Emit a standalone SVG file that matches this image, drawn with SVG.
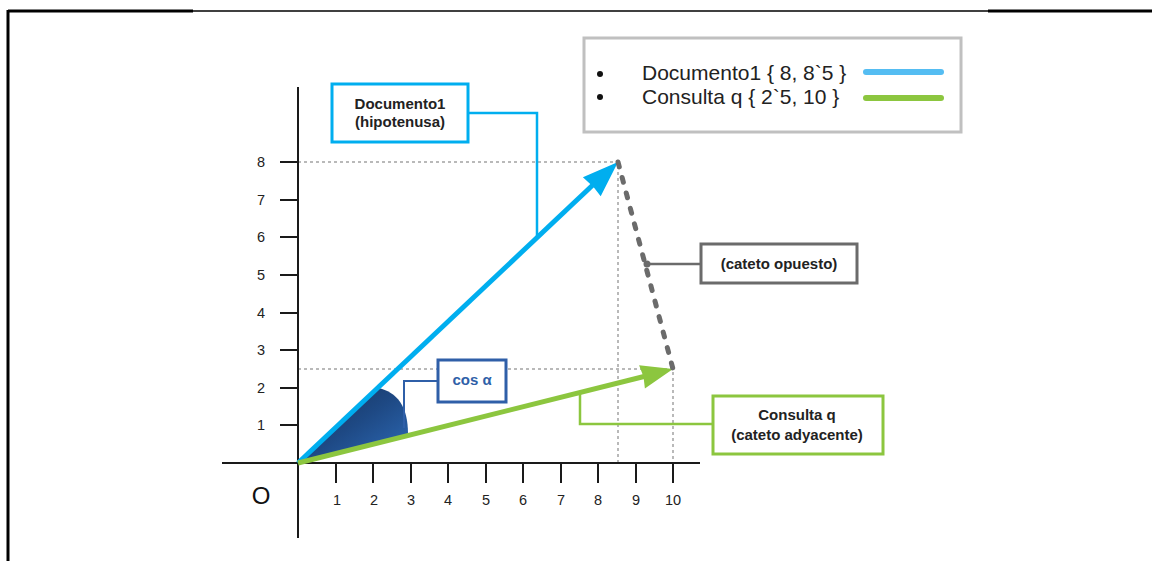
<svg xmlns="http://www.w3.org/2000/svg" width="1159" height="561" viewBox="0 0 1159 561">
  <style>
    .lbl { font-family: "Liberation Sans", Arial, sans-serif; font-weight: bold; font-size: 15px; fill: #222; text-anchor: middle; }
    .num { font-family: "Liberation Sans", Arial, sans-serif; font-size: 14.5px; fill: #222; text-anchor: middle; }
    .leg { font-family: "Liberation Sans", Arial, sans-serif; font-size: 21px; fill: #222; }
    .axis { stroke: #1a1a1a; stroke-width: 2; fill: none; }
    .tick { stroke: #1a1a1a; stroke-width: 2; }
    .guide { stroke: #a3a3a3; stroke-width: 1.5; stroke-dasharray: 3 3; fill: none; }
    .box { fill: #fff; stroke-width: 3; }
  </style>
  <defs>
    <linearGradient id="wedgeFill" x1="0" y1="0" x2="1" y2="1">
      <stop offset="0" stop-color="#142f55"/>
      <stop offset="0.5" stop-color="#1e4984"/>
      <stop offset="1" stop-color="#2e6cba"/>
    </linearGradient>
  </defs>
  <rect width="1159" height="561" fill="#fff"/>

  <!-- page frame -->
  <g id="frame" fill="none" stroke="#000">
    <line x1="8" y1="11" x2="1152" y2="11" stroke-width="1.5"/>
    <line x1="8" y1="11" x2="193" y2="11" stroke-width="3"/>
    <line x1="988" y1="11" x2="1152" y2="11" stroke-width="3"/>
    <line x1="8" y1="10" x2="8" y2="561" stroke-width="3"/>
  </g>

  <!-- guide lines to the vector tips -->
  <g id="guides">
    <polyline class="guide" points="298,162 618,162 618,463"/>
    <polyline class="guide" points="298,369 673,369 673,463"/>
  </g>

  <!-- axes -->
  <g id="axes">
    <line class="axis" x1="298" y1="87" x2="298" y2="538"/>
    <line class="axis" x1="222" y1="463" x2="700" y2="463"/>
    <g class="tick">
      <line x1="336" y1="463" x2="336" y2="483"/>
      <line x1="373" y1="463" x2="373" y2="483"/>
      <line x1="411" y1="463" x2="411" y2="483"/>
      <line x1="448" y1="463" x2="448" y2="483"/>
      <line x1="486" y1="463" x2="486" y2="483"/>
      <line x1="523" y1="463" x2="523" y2="483"/>
      <line x1="561" y1="463" x2="561" y2="483"/>
      <line x1="598" y1="463" x2="598" y2="483"/>
      <line x1="636" y1="463" x2="636" y2="483"/>
      <line x1="673" y1="463" x2="673" y2="483"/>
      <line x1="280" y1="425" x2="298" y2="425"/>
      <line x1="280" y1="388" x2="298" y2="388"/>
      <line x1="280" y1="350" x2="298" y2="350"/>
      <line x1="280" y1="313" x2="298" y2="313"/>
      <line x1="280" y1="275" x2="298" y2="275"/>
      <line x1="280" y1="237" x2="298" y2="237"/>
      <line x1="280" y1="200" x2="298" y2="200"/>
      <line x1="280" y1="162" x2="298" y2="162"/>
    </g>
    <g class="num">
      <text x="337" y="505">1</text>
      <text x="374" y="505">2</text>
      <text x="411" y="505">3</text>
      <text x="448" y="505">4</text>
      <text x="486" y="505">5</text>
      <text x="523" y="505">6</text>
      <text x="561" y="505">7</text>
      <text x="598" y="505">8</text>
      <text x="636" y="505">9</text>
      <text x="673" y="505">10</text>
      <text x="261" y="430">1</text>
      <text x="261" y="393">2</text>
      <text x="261" y="355">3</text>
      <text x="261" y="318">4</text>
      <text x="261" y="280">5</text>
      <text x="261" y="242">6</text>
      <text x="261" y="205">7</text>
      <text x="261" y="167">8</text>
    </g>
    <text x="261" y="504" font-family="Liberation Sans, Arial, sans-serif" font-size="24" fill="#111" text-anchor="middle">O</text>
  </g>

  <!-- angle between the vectors -->
  <path id="angle" d="M298,463 L378,388 C397,392 408,406 408,434 Z" fill="url(#wedgeFill)"/>

  <!-- vectors -->
  <g id="vectors">
    <line x1="298" y1="463" x2="596" y2="182" stroke="#00aeef" stroke-width="5"/>
    <polygon points="618,162 600.7,196.2 593.5,187 582.9,177.2" fill="#00aeef"/>
    <line x1="298" y1="463" x2="646" y2="376" stroke="#8cc63f" stroke-width="5"/>
    <polygon points="673,369 644.9,388.4 643.5,376.8 639.1,365.2" fill="#8cc63f"/>
    <line x1="618" y1="162" x2="673" y2="369" stroke="#6b6b6b" stroke-width="5" stroke-linecap="round" stroke-dasharray="5 11"/>
  </g>

  <!-- connectors from the labels -->
  <g id="connectors" fill="none" stroke-width="2.5">
    <polyline points="468,113 537,113 537,238" stroke="#00aeef"/>
    <polyline points="438,381 404,381 404,428" stroke="#2f5fa8" stroke-width="2"/>
    <line x1="701" y1="264" x2="647" y2="264" stroke="#6b6b6b"/>
    <circle cx="647" cy="264" r="3.5" fill="#6b6b6b" stroke="none"/>
    <polyline points="713,424 580,424 580,394" stroke="#8cc63f"/>
  </g>

  <g id="doc1-label">
    <rect class="box" x="332" y="84" width="136" height="58" stroke="#00aeef"/>
    <text class="lbl" x="400" y="109">Documento1</text>
    <text class="lbl" x="400" y="127">(hipotenusa)</text>
  </g>

  <g id="cos-label">
    <rect class="box" x="438" y="360" width="68" height="42" stroke="#2f5fa8" stroke-width="2.5"/>
    <text class="lbl" x="472" y="385" style="fill:#2f5fa8">cos α</text>
  </g>

  <g id="opuesto-label">
    <rect class="box" x="701" y="244" width="156" height="39" stroke="#6b6b6b" stroke-width="2.5"/>
    <text class="lbl" x="779" y="269">(cateto opuesto)</text>
  </g>

  <g id="consulta-label">
    <rect class="box" x="713" y="396" width="170" height="58" stroke="#8cc63f"/>
    <text class="lbl" x="797" y="420">Consulta q</text>
    <text class="lbl" x="797" y="440">(cateto adyacente)</text>
  </g>

  <g id="legend">
    <rect x="584" y="38" width="377" height="94" fill="#fff" stroke="#c0c0c0" stroke-width="3"/>
    <circle cx="600" cy="74" r="3" fill="#111"/>
    <circle cx="600" cy="97" r="3" fill="#111"/>
    <text class="leg" x="642" y="80">Documento1 { 8, 8`5 }</text>
    <text class="leg" x="642" y="104">Consulta q { 2`5, 10 }</text>
    <line x1="866" y1="72" x2="941" y2="72" stroke="#55bdf2" stroke-width="6" stroke-linecap="round"/>
    <line x1="866" y1="98" x2="941" y2="98" stroke="#8cc63f" stroke-width="6" stroke-linecap="round"/>
  </g>
</svg>
